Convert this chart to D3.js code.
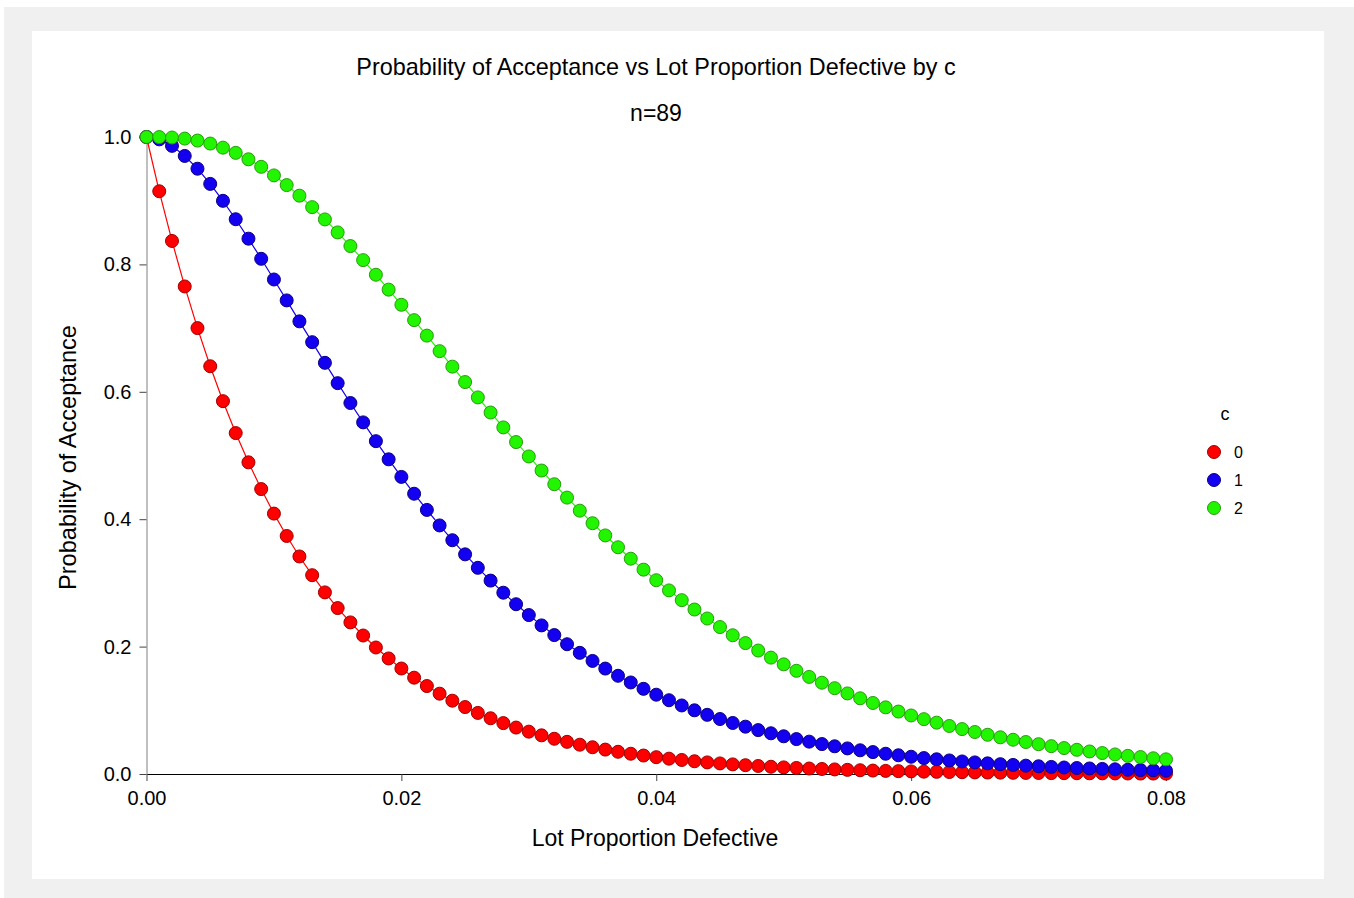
<!DOCTYPE html>
<html>
<head>
<meta charset="utf-8">
<script src="https://cdn.jsdelivr.net/npm/d3@7/dist/d3.min.js"></script>
<style>
  body { margin: 0; background: #fff; }
  svg text { font-family: "Liberation Sans", Arial, sans-serif; fill: #000; }
</style>
</head>
<body>
<div id="chart"></div>
<script>
// lot proportion defective (x)
const proportions = [
  0.000, 0.001, 0.002, 0.003, 0.004, 0.005, 0.006, 0.007, 0.008, 0.009,
  0.010, 0.011, 0.012, 0.013, 0.014, 0.015, 0.016, 0.017, 0.018, 0.019,
  0.020, 0.021, 0.022, 0.023, 0.024, 0.025, 0.026, 0.027, 0.028, 0.029,
  0.030, 0.031, 0.032, 0.033, 0.034, 0.035, 0.036, 0.037, 0.038, 0.039,
  0.040, 0.041, 0.042, 0.043, 0.044, 0.045, 0.046, 0.047, 0.048, 0.049,
  0.050, 0.051, 0.052, 0.053, 0.054, 0.055, 0.056, 0.057, 0.058, 0.059,
  0.060, 0.061, 0.062, 0.063, 0.064, 0.065, 0.066, 0.067, 0.068, 0.069,
  0.070, 0.071, 0.072, 0.073, 0.074, 0.075, 0.076, 0.077, 0.078, 0.079,
  0.080
];

// probability of acceptance, c = 0
const accC0 = [
  1.0000, 0.9148, 0.8368, 0.7654, 0.7000, 0.6401, 0.5853, 0.5352, 0.4893, 0.4473,
  0.4088, 0.3737, 0.3415, 0.3121, 0.2851, 0.2605, 0.2380, 0.2174, 0.1986, 0.1814,
  0.1656, 0.1512, 0.1381, 0.1261, 0.1151, 0.1051, 0.0959, 0.0875, 0.0799, 0.0729,
  0.0665, 0.0607, 0.0553, 0.0505, 0.0460, 0.0420, 0.0383, 0.0349, 0.0318, 0.0290,
  0.0264, 0.0241, 0.0220, 0.0200, 0.0182, 0.0166, 0.0151, 0.0138, 0.0126, 0.0114,
  0.0104, 0.0095, 0.0086, 0.0079, 0.0072, 0.0065, 0.0059, 0.0054, 0.0049, 0.0045,
  0.0041, 0.0037, 0.0034, 0.0031, 0.0028, 0.0025, 0.0023, 0.0021, 0.0019, 0.0017,
  0.0016, 0.0014, 0.0013, 0.0012, 0.0011, 0.0010, 0.0009, 0.0008, 0.0007, 0.0007,
  0.0006
];

// c = 1
const accC1 = [
  1.0000, 0.9963, 0.9861, 0.9703, 0.9502, 0.9264, 0.8998, 0.8709, 0.8404, 0.8088,
  0.7763, 0.7435, 0.7106, 0.6779, 0.6455, 0.6136, 0.5824, 0.5520, 0.5225, 0.4940,
  0.4664, 0.4400, 0.4146, 0.3902, 0.3670, 0.3448, 0.3237, 0.3036, 0.2846, 0.2665,
  0.2495, 0.2333, 0.2181, 0.2037, 0.1902, 0.1775, 0.1655, 0.1542, 0.1437, 0.1337,
  0.1245, 0.1158, 0.1076, 0.1000, 0.0929, 0.0863, 0.0801, 0.0743, 0.0689, 0.0639,
  0.0592, 0.0548, 0.0508, 0.0470, 0.0435, 0.0402, 0.0372, 0.0344, 0.0318, 0.0294,
  0.0271, 0.0250, 0.0231, 0.0213, 0.0197, 0.0182, 0.0167, 0.0154, 0.0142, 0.0131,
  0.0121, 0.0111, 0.0102, 0.0094, 0.0087, 0.0080, 0.0073, 0.0067, 0.0062, 0.0057,
  0.0052
];

// c = 2
const accC2 = [
  1.0000, 0.9999, 0.9992, 0.9975, 0.9944, 0.9897, 0.9833, 0.9751, 0.9650, 0.9532,
  0.9397, 0.9245, 0.9079, 0.8899, 0.8706, 0.8502, 0.8288, 0.8067, 0.7838, 0.7604,
  0.7366, 0.7125, 0.6882, 0.6638, 0.6395, 0.6153, 0.5912, 0.5675, 0.5441, 0.5211,
  0.4985, 0.4764, 0.4549, 0.4339, 0.4134, 0.3937, 0.3745, 0.3559, 0.3380, 0.3208,
  0.3042, 0.2882, 0.2729, 0.2582, 0.2441, 0.2307, 0.2178, 0.2055, 0.1938, 0.1827,
  0.1721, 0.1620, 0.1524, 0.1433, 0.1347, 0.1265, 0.1188, 0.1115, 0.1046, 0.0980,
  0.0919, 0.0861, 0.0806, 0.0754, 0.0705, 0.0659, 0.0616, 0.0576, 0.0538, 0.0502,
  0.0468, 0.0437, 0.0407, 0.0380, 0.0354, 0.0329, 0.0307, 0.0285, 0.0266, 0.0247,
  0.0230
];

const seriesNames = ['0', '1', '2'];
const seriesValues = [accC0, accC1, accC2];
const xTicks = [0, 0.02, 0.04, 0.06, 0.08];
const yTicks = [0, 0.2, 0.4, 0.6, 0.8, 1.0];

const fills   = ['#ff0000', '#1400f0', '#22f500'];
const strokes = ['#a00000', '#0a0080', '#2a9a10'];
const lineCol = ['#ff0000', '#1400f0', '#22f500'];

const width = 1354, height = 898;
const plot = { left: 146.5, right: 1166, top: 137, bottom: 774 };

const svg = d3.select('#chart').append('svg')
  .attr('width', width)
  .attr('height', height);

// frame
svg.append('rect')
  .attr('x', 4).attr('y', 7)
  .attr('width', width - 4).attr('height', height - 7)
  .attr('fill', '#f0f0f0');
svg.append('rect')
  .attr('x', 32).attr('y', 31)
  .attr('width', 1292).attr('height', 848)
  .attr('fill', '#fff');

const x = d3.scaleLinear().domain([0, 0.08]).range([plot.left, plot.right]);
const y = d3.scaleLinear().domain([0, 1]).range([plot.bottom, plot.top]);

// axes
const xAxis = svg.append('g')
  .attr('transform', `translate(0,${plot.bottom})`)
  .call(d3.axisBottom(x).tickValues(xTicks).tickFormat(d3.format('.2f'))
    .tickSizeInner(7).tickSizeOuter(0).tickPadding(10));
xAxis.select('.domain').attr('stroke', '#000');
xAxis.selectAll('.tick line').attr('stroke', '#444');
xAxis.selectAll('text')
  .attr('font-size', 20)
  .attr('font-family', '"Liberation Sans", Arial, sans-serif')
  .attr('fill', '#000');

const yAxis = svg.append('g')
  .attr('transform', `translate(${plot.left},0)`)
  .call(d3.axisLeft(y).tickValues(yTicks).tickFormat(d3.format('.1f'))
    .tickSizeInner(7).tickSizeOuter(0).tickPadding(8));
yAxis.select('.domain').attr('stroke', '#808080');
yAxis.selectAll('.tick line').attr('stroke', '#444');
yAxis.selectAll('text')
  .attr('font-size', 20)
  .attr('font-family', '"Liberation Sans", Arial, sans-serif')
  .attr('fill', '#000');

// titles
svg.append('text')
  .attr('x', 656).attr('y', 75)
  .attr('text-anchor', 'middle')
  .attr('font-size', 23.4)
  .text('Probability of Acceptance vs Lot Proportion Defective by c');
svg.append('text')
  .attr('x', 656).attr('y', 121)
  .attr('text-anchor', 'middle')
  .attr('font-size', 23)
  .text('n=89');
svg.append('text')
  .attr('x', 655).attr('y', 846)
  .attr('text-anchor', 'middle')
  .attr('font-size', 23)
  .text('Lot Proportion Defective');
svg.append('text')
  .attr('transform', `translate(76,${(plot.top + plot.bottom) / 2 + 2}) rotate(-90)`)
  .attr('text-anchor', 'middle')
  .attr('font-size', 23.6)
  .text('Probability of Acceptance');

// series
const line = d3.line().x(d => x(d[0])).y(d => y(d[1]));
seriesValues.forEach((vals, i) => {
  const pts = proportions.map((p, j) => [p, vals[j]]);
  const g = svg.append('g');
  g.append('path')
    .datum(pts)
    .attr('d', line)
    .attr('fill', 'none')
    .attr('stroke', lineCol[i])
    .attr('stroke-width', 1.2);
  g.selectAll('circle')
    .data(pts)
    .enter().append('circle')
      .attr('cx', d => x(d[0]))
      .attr('cy', d => y(d[1]))
      .attr('r', 6.5)
      .attr('fill', fills[i])
      .attr('stroke', strokes[i])
      .attr('stroke-width', 1);
});

// legend
const legend = svg.append('g');
legend.append('text')
  .attr('x', 1225).attr('y', 420)
  .attr('text-anchor', 'middle')
  .attr('font-size', 18)
  .text('c');
seriesNames.forEach((name, i) => {
  const ly = 452 + i * 28;
  legend.append('circle')
    .attr('cx', 1214).attr('cy', ly).attr('r', 6.5)
    .attr('fill', fills[i]).attr('stroke', strokes[i]);
  legend.append('text')
    .attr('x', 1234).attr('y', ly + 6)
    .attr('font-size', 16)
    .text(name);
});
</script>
</body>
</html>
